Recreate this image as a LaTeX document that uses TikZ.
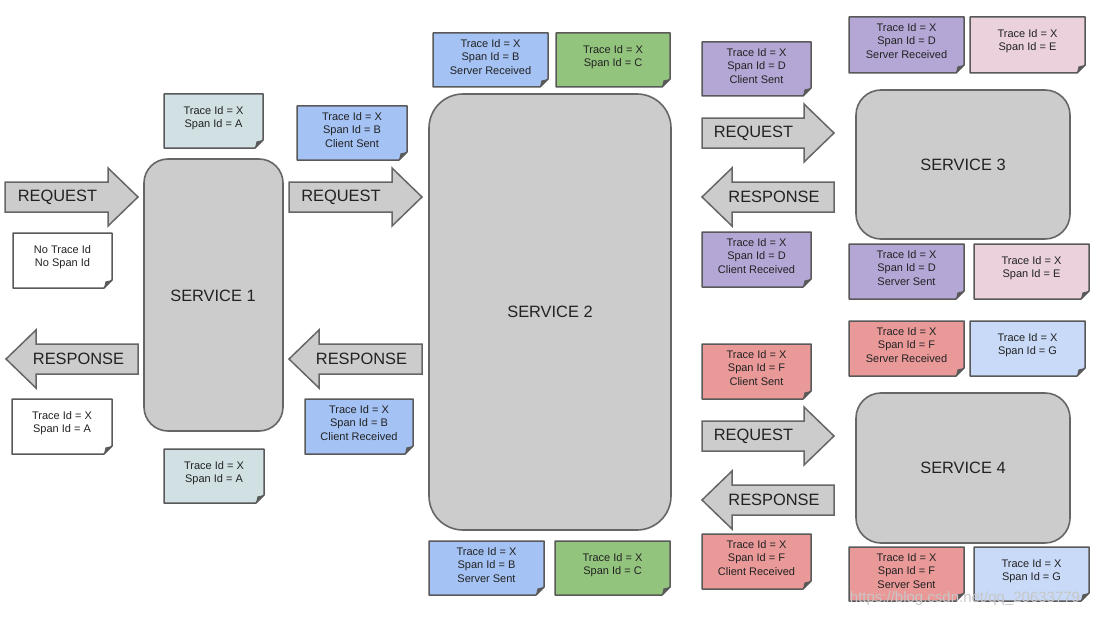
\documentclass[tikz,border=0pt]{standalone}
\usepackage{fontspec}
\setmainfont{Liberation Sans}
\definecolor{svcfill}{HTML}{CCCCCC}
\definecolor{svcline}{HTML}{666666}
\definecolor{noteline}{HTML}{595959}
\definecolor{txt}{HTML}{222222}
\definecolor{cTeal}{HTML}{D0E0E3}
\definecolor{cBlue}{HTML}{A4C2F4}
\definecolor{cGreen}{HTML}{93C47D}
\definecolor{cPurple}{HTML}{B4A7D6}
\definecolor{cPink}{HTML}{EAD1DC}
\definecolor{cRed}{HTML}{EA9999}
\definecolor{cLight}{HTML}{C9DAF8}
\tikzset{
  svc/.style={draw=svcline, fill=svcfill, line width=1.6pt},
  svclabel/.style={text=txt, font=\fontsize{16.4}{20}\selectfont, inner sep=0pt},
  arrshape/.style={draw=svcline, fill=svcfill, line width=1.5pt, line join=miter},
  arrlabel/.style={text=txt, font=\fontsize{16.4}{20}\selectfont, inner sep=0pt},
  noteshape/.style={draw=noteline, line width=1.5pt, line join=round},
  notetext/.style={text=txt, align=center, inner sep=0pt, font=\fontsize{11}{13.6}\selectfont},
}
\newcommand{\drawnote}[7]{%
  \draw[noteshape, fill=#6] (#2,#3) -- (#4,#3) -- (#4,#5-8) -- (#4-8,#5) -- (#2,#5) -- cycle;
  \fill[noteline] (#4-8,#5) -- (#4,#5-8) -- (#4-6.5,#5-6.5) -- cycle;
  \node[notetext] (#1) at ({(#2+#4)/2},#3+24) {#7};
}
\newcommand{\rightarr}[3]{%
  \draw[arrshape] (#1,#3-15) -- (#2-30,#3-15) -- (#2-30,#3-29) -- (#2,#3) -- (#2-30,#3+29) -- (#2-30,#3+15) -- (#1,#3+15) -- cycle;
}
\newcommand{\leftarr}[3]{%
  \draw[arrshape] (#2,#3-15) -- (#1+30,#3-15) -- (#1+30,#3-29) -- (#1,#3) -- (#1+30,#3+29) -- (#1+30,#3+15) -- (#2,#3+15) -- cycle;
}
\begin{document}
\begin{tikzpicture}[x=1pt, y=-1pt]
\useasboundingbox[fill=white] (0,0) rectangle (1096,618);

% services
\draw[svc, rounded corners=24pt] (144,159) rectangle (283,431);
\node[svclabel] (s1) at (213,296) {SERVICE 1};
\draw[svc, rounded corners=34pt] (429,94) rectangle (671,530);
\node[svclabel] (s2) at (550,312) {SERVICE 2};
\draw[svc, rounded corners=25pt] (856,90) rectangle (1070,239);
\node[svclabel] (s3) at (963,165) {SERVICE 3};
\draw[svc, rounded corners=25pt] (856,393) rectangle (1070,543);
\node[svclabel] (s4) at (963,468) {SERVICE 4};

% arrows
\rightarr{5}{138}{197}
\node[arrlabel] (req1) at (57.5,197) {REQUEST};
\rightarr{289}{422}{197}
\node[arrlabel] (req2) at (341,197) {REQUEST};
\leftarr{6}{138}{359}
\node[arrlabel] (res1) at (78.5,359) {RESPONSE};
\leftarr{289}{422}{359}
\node[arrlabel] (res2) at (361.5,359) {RESPONSE};
\rightarr{702}{834}{133}
\node[arrlabel] (req3) at (753.5,133) {REQUEST};
\leftarr{702}{834}{197}
\node[arrlabel] (res3) at (774,197) {RESPONSE};
\rightarr{702}{834}{436}
\node[arrlabel] (req4) at (753.5,436) {REQUEST};
\leftarr{702}{834}{500}
\node[arrlabel] (res4) at (774,500) {RESPONSE};

% notes
\drawnote{n1}{164}{94}{263}{148}{cTeal}{Trace Id = X\\Span Id = A}
\drawnote{n2}{13}{233}{112}{288}{white}{No Trace Id\\No Span Id}
\drawnote{n3}{12}{399}{112}{454}{white}{Trace Id = X\\Span Id = A}
\drawnote{n4}{164}{449}{264}{503}{cTeal}{Trace Id = X\\Span Id = A}
\drawnote{n5}{297}{106}{407}{160}{cBlue}{Trace Id = X\\Span Id = B\\Client Sent}
\drawnote{n6}{305}{399}{413}{454}{cBlue}{Trace Id = X\\Span Id = B\\Client Received}
\drawnote{n7}{433}{33}{548}{87}{cBlue}{Trace Id = X\\Span Id = B\\Server Received}
\drawnote{n8}{556}{33}{670}{87}{cGreen}{Trace Id = X\\Span Id = C}
\drawnote{n9}{429}{541}{544}{595}{cBlue}{Trace Id = X\\Span Id = B\\Server Sent}
\drawnote{n10}{555}{541}{670}{595}{cGreen}{Trace Id = X\\Span Id = C}
\drawnote{n11}{702}{42}{811}{96}{cPurple}{Trace Id = X\\Span Id = D\\Client Sent}
\drawnote{n12}{849}{17}{964}{73}{cPurple}{Trace Id = X\\Span Id = D\\Server Received}
\drawnote{n13}{970}{17}{1085}{73}{cPink}{Trace Id = X\\Span Id = E}
\drawnote{n14}{702}{232}{811}{287}{cPurple}{Trace Id = X\\Span Id = D\\Client Received}
\drawnote{n15}{849}{244}{964}{299}{cPurple}{Trace Id = X\\Span Id = D\\Server Sent}
\drawnote{n16}{974}{244}{1089}{299}{cPink}{Trace Id = X\\Span Id = E}
\drawnote{n17}{702}{344}{811}{399}{cRed}{Trace Id = X\\Span Id = F\\Client Sent}
\drawnote{n18}{849}{321}{964}{376}{cRed}{Trace Id = X\\Span Id = F\\Server Received}
\drawnote{n19}{970}{321}{1085}{376}{cLight}{Trace Id = X\\Span Id = G}
\drawnote{n20}{702}{534}{811}{589}{cRed}{Trace Id = X\\Span Id = F\\Client Received}
\drawnote{n21}{849}{547}{964}{601}{cRed}{Trace Id = X\\Span Id = F\\Server Sent}
\drawnote{n22}{974}{547}{1089}{601}{cLight}{Trace Id = X\\Span Id = G}

% watermark
\node[text=black!22, inner sep=0pt, font=\fontsize{15}{18}\selectfont] (wm) at (965,599) {https://blog.csdn.net/qq\_20633779};
\end{tikzpicture}
\end{document}
